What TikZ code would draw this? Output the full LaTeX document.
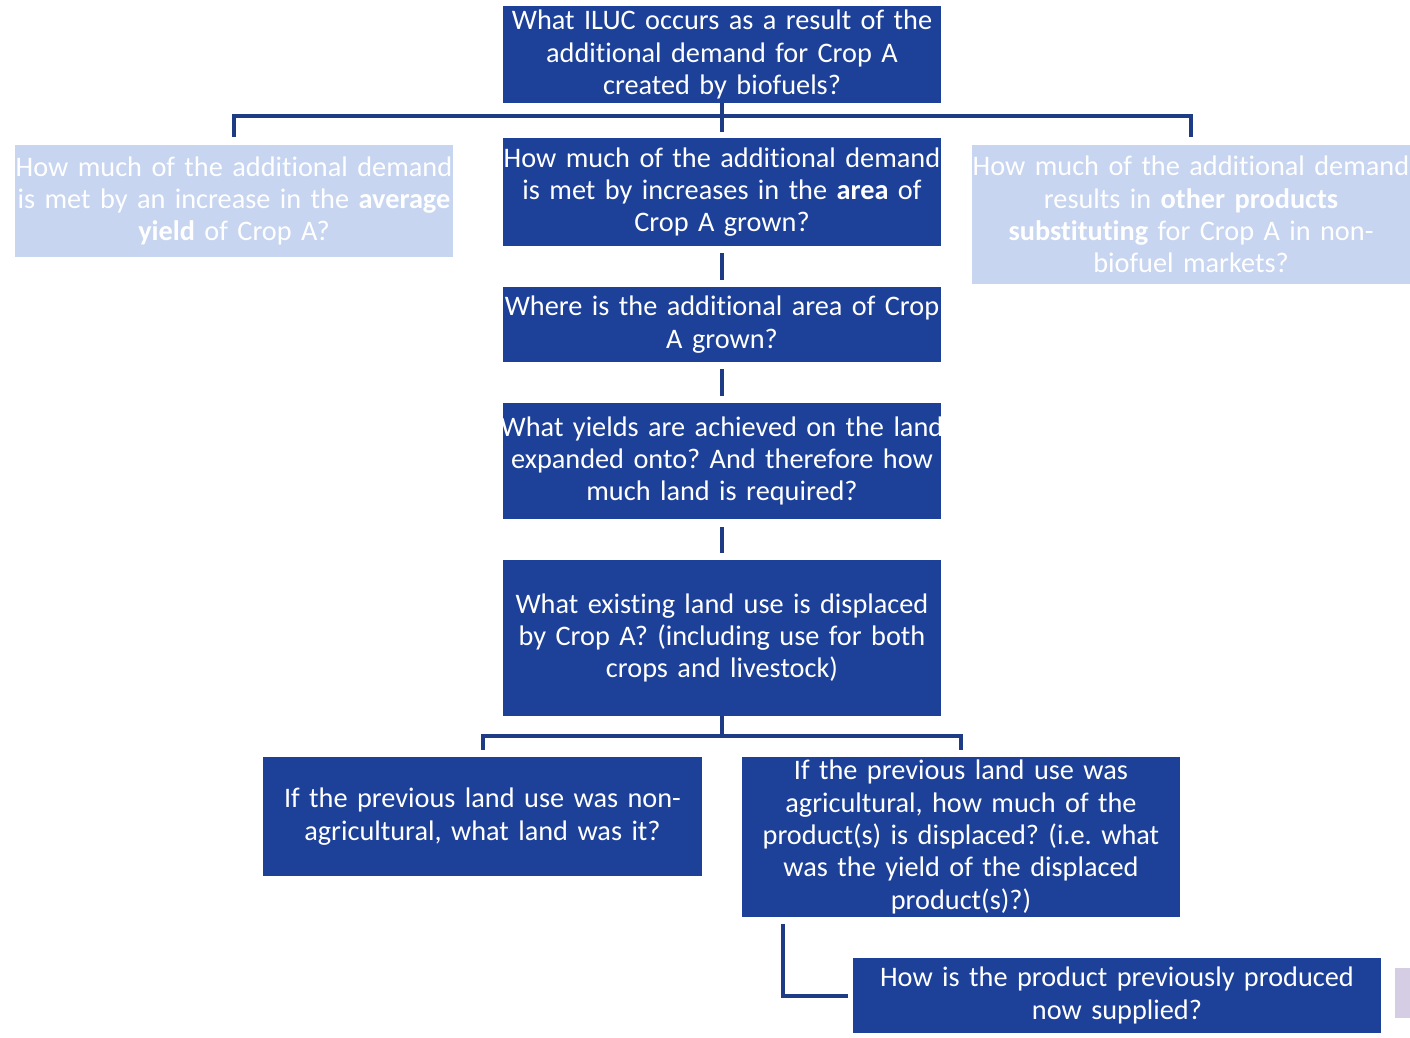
\documentclass[tikz,border=0pt]{standalone}
\usepackage{fontspec}
\setmainfont{Carlito}[Ligatures=NoCommon]
\frenchspacing
\definecolor{boxblue}{HTML}{1D4199}
\definecolor{paleblue}{HTML}{C7D5F1}
\definecolor{linkblue}{HTML}{1E3C86}
\definecolor{lilac}{HTML}{D5CDE3}
\newcommand{\fullline}[1]{\makebox[\linewidth]{#1}}
\begin{document}
\begin{tikzpicture}[x=1pt,y=-1pt,
  qbox/.style={rectangle, fill=boxblue, text=white, align=center, inner sep=0pt,
    font=\fontsize{28.3}{32.3}\selectfont},
  pbox/.style={qbox, fill=paleblue},
  conn/.style={draw=linkblue, line width=4pt}]
\useasboundingbox (0,0) rectangle (1410,1038);
\fill[white] (0,0) rectangle (1410,1038);

% question boxes
\node[qbox, minimum width=438, minimum height=97, text width=438] (q0) at (722,54.5)
  {What ILUC occurs as a result of the\\additional demand for Crop A\\created by biofuels?};
\node[pbox, minimum width=438, minimum height=112, text width=438] (ql) at (234,201)
  {\fullline{How much of the additional demand}\\is met by an increase in the \textbf{average}\\\textbf{yield} of Crop A?};
\node[qbox, minimum width=438, minimum height=108, text width=438] (q1) at (722,192)
  {\fullline{How much of the additional demand}\\is met by increases in the \textbf{area} of\\Crop A grown?};
\node[pbox, minimum width=438, minimum height=139, text width=438] (qr) at (1191,214.5)
  {\fullline{How much of the additional demand}\\results in \textbf{other products}\\\textbf{substituting} for Crop A in non-\\biofuel markets?};
\node[qbox, minimum width=438, minimum height=75, text width=438] (q2) at (722,324.5)
  {\fullline{Where is the additional area of Crop}\\A grown?};
\node[qbox, minimum width=438, minimum height=116, text width=438] (q3) at (722,461)
  {\fullline{What yields are achieved on the land}\\expanded onto? And therefore how\\much land is required?};
\node[qbox, minimum width=438, minimum height=156, text width=438] (q4) at (722,638)
  {What existing land use is displaced\\by Crop A? (including use for both\\crops and livestock)};
\node[qbox, minimum width=439, minimum height=119, text width=439] (q5) at (482.5,816.5)
  {If the previous land use was non-\\agricultural, what land was it?};
\node[qbox, minimum width=438, minimum height=160, text width=438] (q6) at (961,837)
  {If the previous land use was\\agricultural, how much of the\\product(s) is displaced? (i.e. what\\was the yield of the displaced\\product(s)?)};
\node[qbox, minimum width=528, minimum height=75, text width=528] (q7) at (1117,995.5)
  {How is the product previously produced\\now supplied?};

% side tab
\fill[lilac] (1395,968) rectangle (1410,1018);

% connectors
\draw[conn] (q0.south) -- ++(0,29);
\draw[conn] ([yshift=8pt]ql.north) -- ++(0,-21) -| ([yshift=8pt]qr.north);
\draw[conn] ([yshift=-7pt]q1.south) -- ([yshift=7pt]q2.north);
\draw[conn] ([yshift=-7pt]q2.south) -- ([yshift=7pt]q3.north);
\draw[conn] ([yshift=-8pt]q3.south) -- ([yshift=7pt]q4.north);
\draw[conn] (q4.south) -- ++(0,20);
\draw[conn] ([yshift=7pt]q5.north) -- ++(0,-14) -| ([yshift=7pt]q6.north);
\draw[conn] ([xshift=41pt,yshift=-7pt]q6.south west) |- ([xshift=-5pt]q7.west);
\end{tikzpicture}
\end{document}
